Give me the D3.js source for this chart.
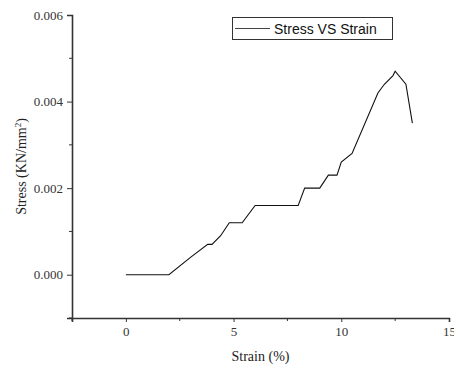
<!DOCTYPE html>
<html>
<head>
<meta charset="utf-8">
<script src="https://cdn.jsdelivr.net/npm/d3@7"></script>
<style>
  body { margin: 0; background: #fff; }
  svg { display: block; }
</style>
</head>
<body>
<div id="chart"></div>
<script>
// strain (%) and stress (KN/mm2)
const strain = [0, 2, 3, 3.8, 4, 4.4, 4.8, 5.4, 6, 8, 8.3, 9, 9.4, 9.8, 10, 10.5, 11.7, 12, 12.4, 12.5, 13.0, 13.3];
const stress = [0, 0, 0.0004, 0.0007, 0.0007, 0.0009, 0.0012, 0.0012, 0.0016, 0.0016, 0.002, 0.002, 0.0023, 0.0023, 0.0026, 0.0028, 0.0042, 0.0044, 0.0046, 0.0047, 0.0044, 0.0035];
const xTicks = [0, 5, 10, 15];
const xMinor = [-2.5, 2.5, 7.5, 12.5];
const yTicks = [0, 0.002, 0.004, 0.006];
const yMinor = [-0.001, 0.001, 0.003, 0.005];
const seriesName = "Stress VS Strain";

let width = 454, height = 367;
let margin = { top: 15, right: 5, bottom: 49, left: 72 };

const svg = d3.select("#chart")
    .append("svg")
    .attr("width", width)
    .attr("height", height);

const x = d3.scaleLinear()
    .domain([-2.5, 15])
    .range([margin.left, width - margin.right]);

const y = d3.scaleLinear()
    .domain([-0.001, 0.006])
    .range([height - margin.bottom, margin.top]);

const serif = "Liberation Serif";
const axisColor = "#333";

// x axis
const xAxis = svg.append("g")
    .attr("transform", `translate(0,${height - margin.bottom})`)
    .call(d3.axisBottom(x).tickValues(xTicks).tickFormat(d3.format("d")).tickSize(4).tickPadding(5));
xAxis.append("g").selectAll("line")
    .data(xMinor)
    .join("line")
    .attr("x1", d => x(d)).attr("x2", d => x(d))
    .attr("y1", 0).attr("y2", 3)
    .attr("stroke", axisColor);

// y axis
const yAxis = svg.append("g")
    .attr("transform", `translate(${margin.left},0)`)
    .call(d3.axisLeft(y).tickValues(yTicks).tickFormat(d3.format(".3f")).tickSize(5).tickPadding(4));
yAxis.append("g").selectAll("line")
    .data(yMinor)
    .join("line")
    .attr("x1", 0).attr("x2", -3)
    .attr("y1", d => y(d)).attr("y2", d => y(d))
    .attr("stroke", axisColor);

[xAxis, yAxis].forEach(g => {
    g.attr("font-family", serif).attr("font-size", 13);
    g.select(".domain").attr("stroke", axisColor).attr("stroke-width", 1.6);
    g.selectAll(".tick line").attr("stroke", axisColor);
    g.selectAll(".tick text").attr("fill", "#333");
});

// curve
svg.append("path")
    .datum(d3.range(strain.length))
    .attr("fill", "none")
    .attr("stroke", "#111")
    .attr("stroke-width", 1.1)
    .attr("d", d3.line().x(i => x(strain[i])).y(i => y(stress[i])));

// axis titles
svg.append("text")
    .attr("x", (margin.left + width - margin.right) / 2)
    .attr("y", 361)
    .attr("text-anchor", "middle")
    .attr("font-family", serif)
    .attr("font-size", 14)
    .attr("fill", "#222")
    .text("Strain (%)");

const yTitle = svg.append("text")
    .attr("transform", `translate(26,${(margin.top + height - margin.bottom) / 2}) rotate(-90)`)
    .attr("text-anchor", "middle")
    .attr("font-family", serif)
    .attr("font-size", 14)
    .attr("fill", "#222");
yTitle.append("tspan").text("Stress (KN/mm");
yTitle.append("tspan").attr("dy", -5).attr("font-size", 9).text("2");
yTitle.append("tspan").attr("dy", 5).text(")");

// legend
const legend = svg.append("g");
legend.append("rect")
    .attr("x", 232.5).attr("y", 17.5)
    .attr("width", 160).attr("height", 22)
    .attr("fill", "#fff")
    .attr("stroke", "#333");
legend.append("line")
    .attr("x1", 235).attr("x2", 270)
    .attr("y1", 28.5).attr("y2", 28.5)
    .attr("stroke", "#444")
    .attr("stroke-width", 1.2);
legend.append("text")
    .attr("x", 274).attr("y", 33.5)
    .attr("font-family", "Liberation Sans")
    .attr("font-size", 14)
    .attr("fill", "#111")
    .text(seriesName);
</script>
</body>
</html>
